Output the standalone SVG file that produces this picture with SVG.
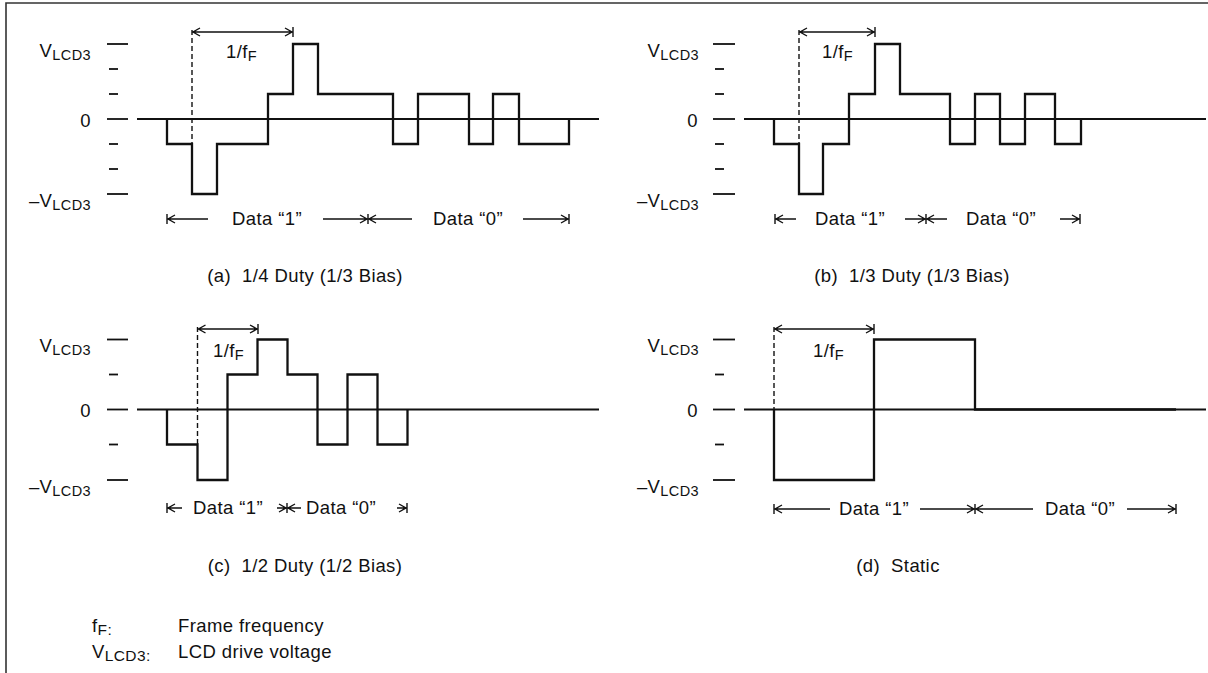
<svg xmlns="http://www.w3.org/2000/svg" width="1208" height="673" viewBox="0 0 1208 673">
<style>
text{font-family:"Liberation Sans",Arial,sans-serif;font-size:18.5px;fill:#111;letter-spacing:0.4px}
.sub{font-size:14.5px}
.lsub{font-size:15.5px}
.lbl{text-anchor:end}
.wave{fill:none;stroke:#111;stroke-width:2.3;stroke-linejoin:miter}
.axis{stroke:#111;stroke-width:1.8}
.tick{stroke:#111;stroke-width:1.8}
.dash{stroke:#111;stroke-width:1.4;stroke-dasharray:5 3}
.arr{fill:none;stroke:#111;stroke-width:1.4}
.frame{stroke:#333;stroke-width:1.6;fill:none}
</style>
<g id="frame"><path class="frame" d="M6,673 V3 H1208"/></g>

<g id="panel-a">
  <line class="axis" x1="137" y1="119" x2="599" y2="119"/>
  <line class="tick" x1="107" y1="44" x2="128" y2="44"/>
  <line class="tick" x1="109" y1="69" x2="118" y2="69"/>
  <line class="tick" x1="109" y1="94" x2="118" y2="94"/>
  <line class="tick" x1="107" y1="119" x2="128" y2="119"/>
  <line class="tick" x1="109" y1="144" x2="118" y2="144"/>
  <line class="tick" x1="109" y1="169" x2="118" y2="169"/>
  <line class="tick" x1="107" y1="194" x2="128" y2="194"/>
  <text class="lbl" x="91" y="57">V<tspan class="sub" dy="3">LCD3</tspan></text>
  <text class="lbl" x="91" y="127">0</text>
  <text class="lbl" x="91" y="207">–V<tspan class="sub" dy="3">LCD3</tspan></text>
  <path class="wave" d="M167,119 V144 H192 V194 H217 V144 H268 V94 H293 V44 H318 V94 H393 V144 H418 V94 H469 V144 H493 V94 H519 V144 H569 V119"/>
  <text x="226" y="58">1/f<tspan class="sub" dy="3">F</tspan></text>
  <text x="305" y="282" text-anchor="middle" xml:space="preserve">(a)  1/4 Duty (1/3 Bias)</text>
  <text x="232" y="225">Data “1”</text>
  <text x="433" y="225">Data “0”</text>
</g>

<g id="panel-b">
  <line class="axis" x1="744" y1="119" x2="1206" y2="119"/>
  <line class="tick" x1="713" y1="44" x2="735" y2="44"/>
  <line class="tick" x1="715" y1="69" x2="724" y2="69"/>
  <line class="tick" x1="715" y1="94" x2="724" y2="94"/>
  <line class="tick" x1="713" y1="119" x2="735" y2="119"/>
  <line class="tick" x1="715" y1="144" x2="724" y2="144"/>
  <line class="tick" x1="715" y1="169" x2="724" y2="169"/>
  <line class="tick" x1="713" y1="194" x2="735" y2="194"/>
  <text class="lbl" x="699" y="57">V<tspan class="sub" dy="3">LCD3</tspan></text>
  <text class="lbl" x="698" y="127">0</text>
  <text class="lbl" x="699" y="207">–V<tspan class="sub" dy="3">LCD3</tspan></text>
  <path class="wave" d="M774,119 V144 H799 V194 H823 V144 H849 V94 H875 V44 H900 V94 H950 V144 H975 V94 H1000 V144 H1025 V94 H1055 V144 H1081 V119"/>
  <text x="822" y="58">1/f<tspan class="sub" dy="3">F</tspan></text>
  <text x="912" y="282" text-anchor="middle" xml:space="preserve">(b)  1/3 Duty (1/3 Bias)</text>
  <text x="815" y="225">Data “1”</text>
  <text x="966" y="225">Data “0”</text>
</g>

<g id="panel-c">
  <line class="axis" x1="137" y1="409.5" x2="599" y2="409.5"/>
  <line class="tick" x1="107" y1="339.5" x2="128" y2="339.5"/>
  <line class="tick" x1="109" y1="374.5" x2="118" y2="374.5"/>
  <line class="tick" x1="107" y1="409.5" x2="128" y2="409.5"/>
  <line class="tick" x1="109" y1="444.5" x2="118" y2="444.5"/>
  <line class="tick" x1="107" y1="480" x2="128" y2="480"/>
  <text class="lbl" x="91" y="352">V<tspan class="sub" dy="3">LCD3</tspan></text>
  <text class="lbl" x="91" y="417">0</text>
  <text class="lbl" x="91" y="493">–V<tspan class="sub" dy="3">LCD3</tspan></text>
  <path class="wave" d="M167,409.5 V444.5 H197.5 V480 H227.5 V374.5 H257.5 V339.5 H287.5 V374.5 H317.5 V444.5 H347.5 V374.5 H377.5 V444.5 H407.5 V409.5"/>
  <text x="213" y="357">1/f<tspan class="sub" dy="3">F</tspan></text>
  <text x="305" y="572" text-anchor="middle" xml:space="preserve">(c)  1/2 Duty (1/2 Bias)</text>
  <text x="193" y="514">Data “1”</text>
  <text x="306" y="514">Data “0”</text>
</g>

<g id="panel-d">
  <line class="axis" x1="744" y1="409.5" x2="1206" y2="409.5"/>
  <line class="tick" x1="713" y1="339.5" x2="735" y2="339.5"/>
  <line class="tick" x1="715" y1="374.5" x2="724" y2="374.5"/>
  <line class="tick" x1="713" y1="409.5" x2="735" y2="409.5"/>
  <line class="tick" x1="715" y1="444.5" x2="724" y2="444.5"/>
  <line class="tick" x1="713" y1="480" x2="735" y2="480"/>
  <text class="lbl" x="699" y="352">V<tspan class="sub" dy="3">LCD3</tspan></text>
  <text class="lbl" x="698" y="417">0</text>
  <text class="lbl" x="699" y="493">–V<tspan class="sub" dy="3">LCD3</tspan></text>
  <path class="wave" d="M774,409.5 V480 H874 V339.5 H975 V409.5 H1176"/>
  <text x="813" y="357">1/f<tspan class="sub" dy="3">F</tspan></text>
  <text x="898" y="572" text-anchor="middle" xml:space="preserve">(d)  Static</text>
  <text x="839" y="515">Data “1”</text>
  <text x="1045" y="515">Data “0”</text>
</g>

<g id="legend">
  <text x="92" y="632">f<tspan class="lsub" dy="3">F:</tspan></text>
  <text x="178" y="632">Frame frequency</text>
  <text x="92" y="658">V<tspan class="lsub" dy="3">LCD3:</tspan></text>
  <text x="178" y="658">LCD drive voltage</text>
</g>

<g id="connectors">
  <line class="dash" x1="192" y1="30" x2="192" y2="144"/>
  <line class="dash" x1="799" y1="30" x2="799" y2="144"/>
  <line class="dash" x1="197.5" y1="327" x2="197.5" y2="444"/>
  <line class="dash" x1="774" y1="327" x2="774" y2="409"/>
  <path class="arr" d="M192,32 H293 M293,27 V37 M200,28 L193,32 L200,36 M285,28 L292,32 L285,36"/>
  <path class="arr" d="M799,32 H875 M875,27 V37 M807,28 L800,32 L807,36 M867,28 L874,32 L867,36"/>
  <path class="arr" d="M197.5,329 H258 M258,324 V334 M205.5,325 L198.5,329 L205.5,333 M250,325 L257,329 L250,333"/>
  <path class="arr" d="M774,329 H874 M874,324 V334 M782,325 L775,329 L782,333 M866,325 L873,329 L866,333"/>
  <path class="arr" d="M167,214 V224 M167,219 H208 M175,215 L168,219 L175,223 M323,219 H412 M368,214 V224 M360,215 L367,219 L360,223 M376,215 L369,219 L376,223 M523,219 H569 M569,214 V224 M561,215 L568,219 L561,223"/>
  <path class="arr" d="M775,214 V224 M775,219 H796 M783,215 L776,219 L783,223 M905,219 H947 M926,214 V224 M918,215 L925,219 L918,223 M934,215 L927,219 L934,223 M1060,219 H1080 M1080,214 V224 M1072,215 L1079,219 L1072,223"/>
  <path class="arr" d="M167,503 V513 M167,508 H182 M175,504 L168,508 L175,512 M277,508 H301 M287,503 V513 M279,504 L286,508 L279,512 M295,504 L288,508 L295,512 M397,508 H407 M407,503 V513 M399,504 L406,508 L399,512"/>
  <path class="arr" d="M774,504 V514 M774,509 H830 M782,505 L775,509 L782,513 M920,509 H1033 M975,504 V514 M967,505 L974,509 L967,513 M983,505 L976,509 L983,513 M1127,509 H1176 M1176,504 V514 M1168,505 L1175,509 L1168,513"/>
</g>
</svg>
